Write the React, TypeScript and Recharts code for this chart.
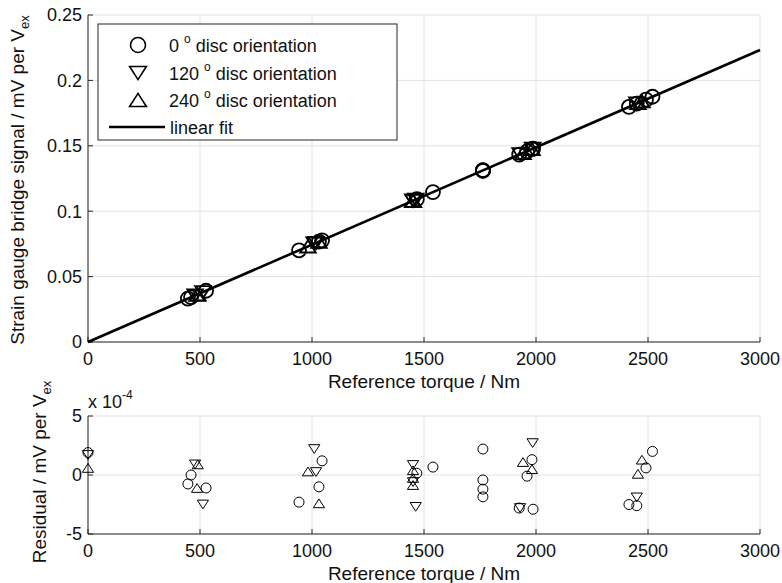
import React from "react";
import { ScatterChart, Scatter, XAxis, YAxis, CartesianGrid, Label } from "recharts";

const FONT = '"Liberation Sans", Arial, Helvetica, sans-serif';
const AXIS = "#262626";
const GRID = "#e2e2e2";

const xTicks = [0, 500, 1000, 1500, 2000, 2500, 3000];
const signalTicks = [0, 0.05, 0.1, 0.15, 0.2, 0.25];
const residualTicks = [-5, 0, 5];

// 0 deg disc orientation (first point is the unloaded reading, only in the residual panel)
const torque0 = [0, 446, 460, 527, 942, 1031, 1045, 1468, 1540, 1763, 1763, 1763, 1763, 1925, 1960, 1982, 1987, 2415, 2450, 2491, 2520];
const signal0 = [null, 0.0332, 0.0342, 0.0392, 0.0701, 0.0767, 0.0777, 0.1092, 0.1146, 0.1314, 0.1311, 0.131, 0.1309, 0.1432, 0.1458, 0.1475, 0.1478, 0.1797, 0.1823, 0.1853, 0.1875];
const residual0 = [1.9, -0.76, 0.0, -1.1, -2.3, -1.0, 1.2, 0.15, 0.67, 2.2, -0.42, -1.2, -1.85, -2.8, -0.1, 1.3, -2.9, -2.5, -2.6, 0.6, 2.0];

// 120 deg disc orientation
const torque120 = [0, 478, 513, 1010, 1018, 1451, 1451, 1463, 1929, 1985, 2450];
const signal120 = [null, 0.0356, 0.0381, 0.0752, 0.0757, 0.108, 0.108, 0.1088, 0.1435, 0.1477, 0.1823];
const residual120 = [1.7, 0.9, -2.5, 2.2, 0.25, 0.85, -0.6, -2.7, -2.8, 2.7, -1.9];

// 240 deg disc orientation
const torque240 = [0, 490, 487, 982, 1031, 1451, 1451, 1451, 1942, 1982, 2455, 2473];
const signal240 = [null, 0.0365, 0.0362, 0.0731, 0.0767, 0.108, 0.108, 0.108, 0.1445, 0.1475, 0.1827, 0.184];
const residual240 = [0.6, 0.9, -1.1, 0.3, -2.4, 0.4, -0.25, -0.85, 1.1, 0.5, 0.1, 1.3];

// linear fit
const fitTorque = [0, 3000];
const fitSignal = [0, 0.2232];

type Kind = "o" | "v" | "^";

const pts = (xs: number[], ys: (number | null)[]) =>
  xs.map((x, i) => ({ x, y: ys[i] })).filter((p) => p.y !== null);

function Mark({ kind, cx, cy, s, sw }: { kind: Kind; cx: number; cy: number; s: number; sw: number }) {
  if (kind === "o") {
    return <circle cx={cx} cy={cy} r={s} fill="none" stroke="#000" strokeWidth={sw} />;
  }
  const w = s * 1.12;
  const h = s * 1.75;
  const p =
    kind === "v"
      ? `${cx - w},${cy - h / 2} ${cx + w},${cy - h / 2} ${cx},${cy + h / 2}`
      : `${cx - w},${cy + h / 2} ${cx + w},${cy + h / 2} ${cx},${cy - h / 2}`;
  return <polygon points={p} fill="none" stroke="#000" strokeWidth={sw} />;
}

const shapeFor = (kind: Kind, s: number, sw: number) => (props: any) =>
  <Mark kind={kind} cx={props.cx} cy={props.cy} s={s} sw={sw} />;

const tickStyle = { fill: "#111", fontSize: 18, fontFamily: FONT };

const xLabel = (props: any) => {
  const vb = props.viewBox;
  return (
    <text x={vb.x + vb.width / 2} y={vb.y + 46} textAnchor="middle" fontSize={19} fontFamily={FONT} fill="#111">
      Reference torque / Nm
    </text>
  );
};

function SignalChart() {
  return (
    <ScatterChart width={782} height={400} margin={{ top: 15, right: 22, bottom: 0, left: 0 }}>
      <CartesianGrid stroke={GRID} />
      <XAxis dataKey="x" type="number" domain={[0, 3000]} ticks={xTicks} interval={0} height={58}
        tickSize={-5} tickMargin={15} stroke={AXIS} tick={tickStyle}>
        <Label content={xLabel} />
      </XAxis>
      <XAxis xAxisId="top" orientation="top" type="number" domain={[0, 3000]} ticks={xTicks}
        height={0} tick={false} tickSize={-5} stroke={AXIS} allowDataOverflow />
      <YAxis dataKey="y" type="number" domain={[0, 0.25]} ticks={signalTicks} interval={0} width={88}
        tickSize={-5} tickMargin={11} stroke={AXIS} tick={tickStyle} />
      <YAxis yAxisId="right" orientation="right" type="number" domain={[0, 0.25]} ticks={signalTicks}
        width={0} tick={false} tickSize={-5} stroke={AXIS} allowDataOverflow />
      <Scatter data={pts(torque0, signal0)} shape={shapeFor("o", 7, 1.8)} isAnimationActive={false} />
      <Scatter data={pts(torque120, signal120)} shape={shapeFor("v", 7, 1.8)} isAnimationActive={false} />
      <Scatter data={pts(torque240, signal240)} shape={shapeFor("^", 7, 1.8)} isAnimationActive={false} />
      <Scatter data={pts(fitTorque, fitSignal)} line={{ stroke: "#000", strokeWidth: 2.6 }}
        shape={() => <g />} isAnimationActive={false} />
    </ScatterChart>
  );
}

function ResidualChart() {
  return (
    <ScatterChart width={782} height={188} margin={{ top: 21, right: 22, bottom: 0, left: 0 }}>
      <CartesianGrid stroke={GRID} />
      <XAxis dataKey="x" type="number" domain={[0, 3000]} ticks={xTicks} interval={0} height={49}
        tickSize={-5} tickMargin={15} stroke={AXIS} tick={tickStyle}>
        <Label content={xLabel} />
      </XAxis>
      <XAxis xAxisId="top" orientation="top" type="number" domain={[0, 3000]} ticks={xTicks}
        height={0} tick={false} tickSize={-5} stroke={AXIS} allowDataOverflow />
      <YAxis dataKey="y" type="number" domain={[-5, 5]} ticks={residualTicks} interval={0} width={88}
        tickSize={-5} tickMargin={11} stroke={AXIS} tick={tickStyle} />
      <YAxis yAxisId="right" orientation="right" type="number" domain={[-5, 5]} ticks={residualTicks}
        width={0} tick={false} tickSize={-5} stroke={AXIS} allowDataOverflow />
      <Scatter data={pts(torque0, residual0)} shape={shapeFor("o", 5, 1)} isAnimationActive={false} />
      <Scatter data={pts(torque120, residual120)} shape={shapeFor("v", 5, 1)} isAnimationActive={false} />
      <Scatter data={pts(torque240, residual240)} shape={shapeFor("^", 5, 1)} isAnimationActive={false} />
    </ScatterChart>
  );
}

function Overlay() {
  const rows: { kind: Kind; label: string }[] = [
    { kind: "o", label: "0" },
    { kind: "v", label: "120" },
    { kind: "^", label: "240" },
  ];
  const rowY = [45, 73, 100, 127];
  return (
    <svg width={782} height={583} style={{ position: "absolute", left: 0, top: 0, pointerEvents: "none" }}>
      <rect x={98} y={24} width={299} height={116} fill="#fff" stroke={AXIS} strokeWidth={1} />
      {rows.map((r, i) => (
        <g key={r.label}>
          <Mark kind={r.kind} cx={138} cy={rowY[i]} s={7.5} sw={1.6} />
          <text x={169} y={rowY[i] + 6.5} fontSize={18} fontFamily={FONT} fill="#111">
            <tspan>{r.label} </tspan>
            <tspan fontSize={12} dy={-9}>o</tspan>
            <tspan dy={9}> disc orientation</tspan>
          </text>
        </g>
      ))}
      <line x1={109} x2={165} y1={rowY[3]} y2={rowY[3]} stroke="#000" strokeWidth={2.6} />
      <text x={170} y={rowY[3] + 6.5} fontSize={18} fontFamily={FONT} fill="#111">linear fit</text>

      <g transform="translate(24,180) rotate(-90)">
        <text textAnchor="middle" fontSize={19} fontFamily={FONT} fill="#111">
          <tspan>Strain gauge bridge signal / mV per V</tspan>
          <tspan fontSize={13} dy={5}>ex</tspan>
        </text>
      </g>
      <g transform="translate(46,472) rotate(-90)">
        <text textAnchor="middle" fontSize={19} fontFamily={FONT} fill="#111">
          <tspan>Residual / mV per V</tspan>
          <tspan fontSize={13} dy={5}>ex</tspan>
        </text>
      </g>
      <text x={88} y={408} fontSize={18} fontFamily={FONT} fill="#111">
        <tspan>x 10</tspan>
        <tspan fontSize={12} dy={-9}>-4</tspan>
      </text>
    </svg>
  );
}

export default function App() {
  return (
    <div style={{ position: "absolute", left: 0, top: 0, width: 782, height: 583, background: "#fff" }}>
      <div style={{ position: "absolute", left: 0, top: 0 }}>
        <SignalChart />
      </div>
      <div style={{ position: "absolute", left: 0, top: 395 }}>
        <ResidualChart />
      </div>
      <Overlay />
    </div>
  );
}
